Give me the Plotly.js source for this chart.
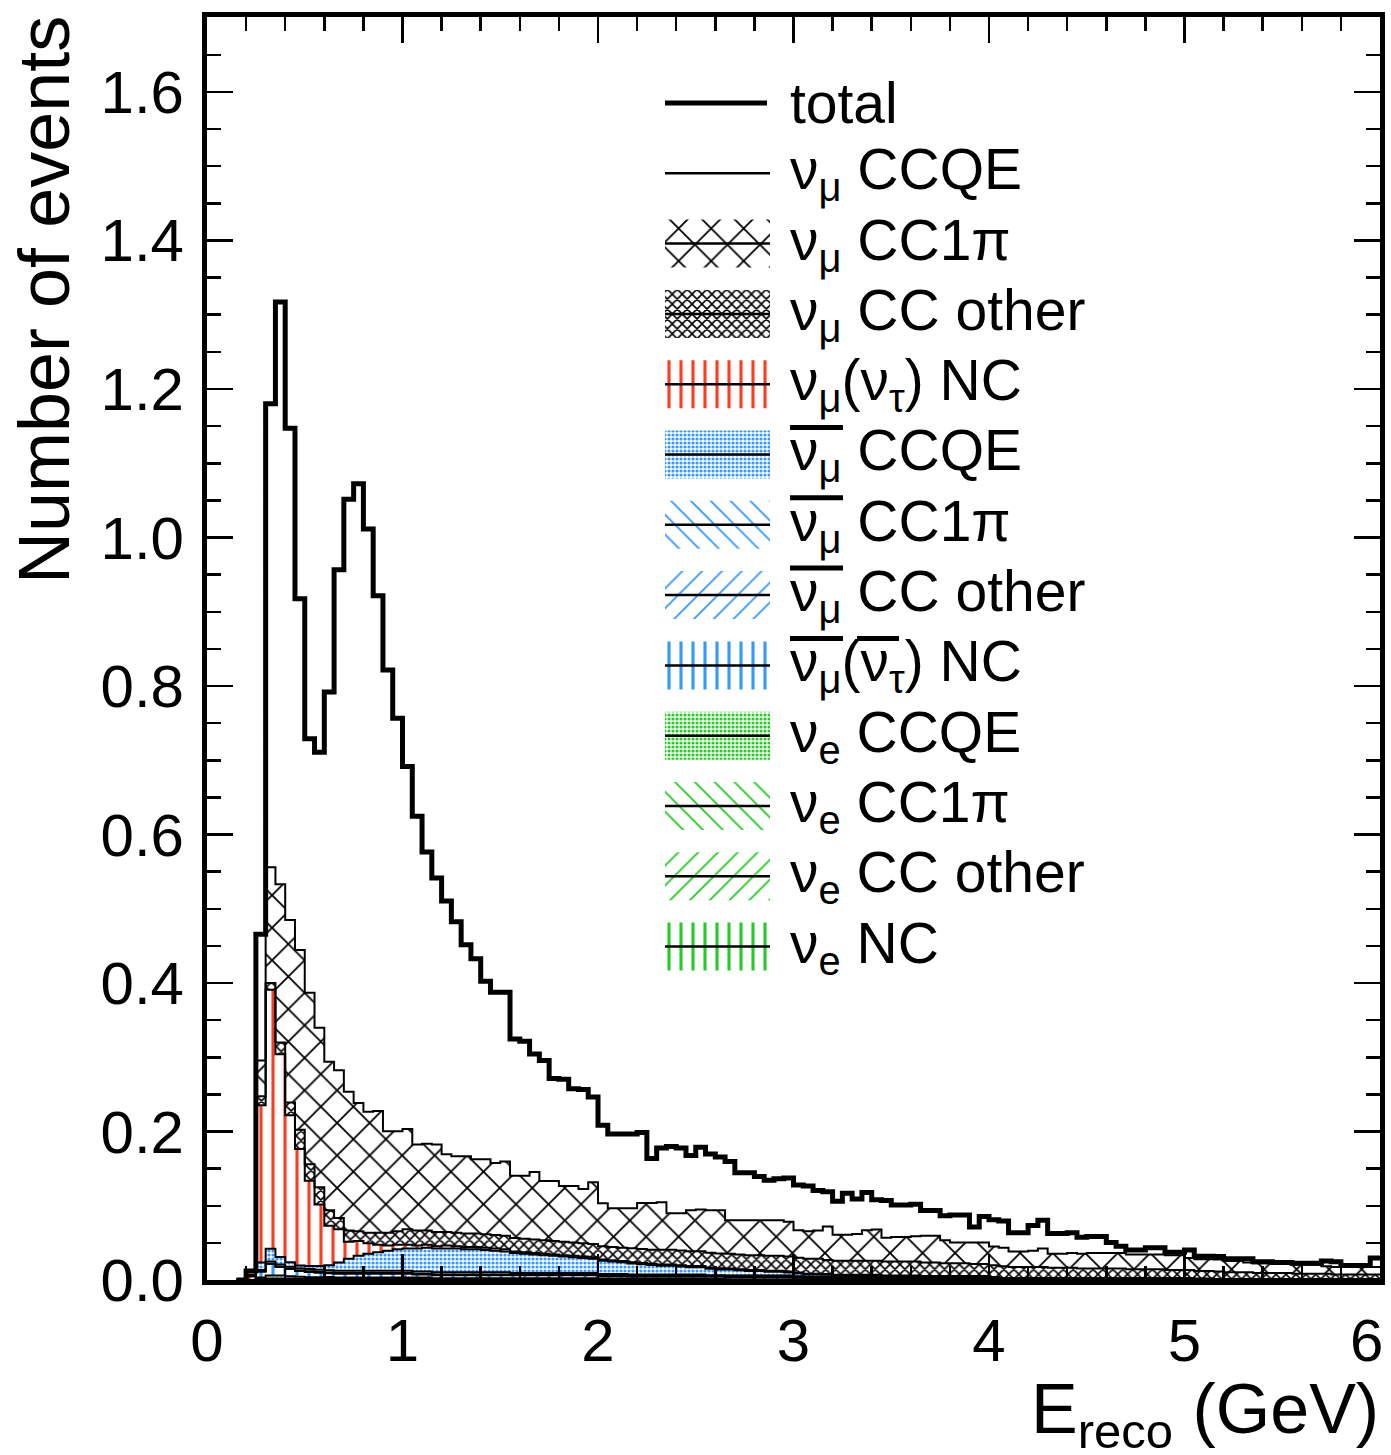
<!DOCTYPE html>
<html><head><meta charset="utf-8">
<script src="https://cdn.plot.ly/plotly-3.0.1.min.js"></script>
<style>html,body{margin:0;padding:0;background:#fff}#plot{width:1391px;height:1455px}</style>
</head><body><div id="plot"></div><script>
// ---------------- DATA (bin low edges in GeV, bin width 0.05) ----------------
const binLow = [
0.15,0.20,0.25,0.30,0.35,0.40,0.45,0.50,0.55,0.60,
0.65,0.70,0.75,0.80,0.85,0.90,0.95,1.00,1.05,1.10,
1.15,1.20,1.25,1.30,1.35,1.40,1.45,1.50,1.55,1.60,
1.65,1.70,1.75,1.80,1.85,1.90,1.95,2.00,2.05,2.10,
2.15,2.20,2.25,2.30,2.35,2.40,2.45,2.50,2.55,2.60,
2.65,2.70,2.75,2.80,2.85,2.90,2.95,3.00,3.05,3.10,
3.15,3.20,3.25,3.30,3.35,3.40,3.45,3.50,3.55,3.60,
3.65,3.70,3.75,3.80,3.85,3.90,3.95,4.00,4.05,4.10,
4.15,4.20,4.25,4.30,4.35,4.40,4.45,4.50,4.55,4.60,
4.65,4.70,4.75,4.80,4.85,4.90,4.95,5.00,5.05,5.10,
5.15,5.20,5.25,5.30,5.35,5.40,5.45,5.50,5.55,5.60,
5.65,5.70,5.75,5.80,5.85,5.90,5.95];
const lastEdge = 6.0;
const xTickVals = [0, 1, 2, 3, 4, 5, 6];

// nu_e NC
const veNC = [
0,0,0.001,0.001,0.001,0.001,0.0005,0.0005,0.0005,0.0005,
0,0,0,0,0,0,0,0,0,0,
0,0,0,0,0,0,0,0,0,0,
0,0,0,0,0,0,0,0,0,0,
0,0,0,0,0,0,0,0,0,0,
0,0,0,0,0,0,0,0,0,0,
0,0,0,0,0,0,0,0,0,0,
0,0,0,0,0,0,0,0,0,0,
0,0,0,0,0,0,0,0,0,0,
0,0,0,0,0,0,0,0,0,0,
0,0,0,0,0,0,0,0,0,0,
0,0,0,0,0,0,0];
// nu_e CC other
const veCCother = [
0,0,0,0,0,0,0,0.0003,0.0003,0.0005,
0.0005,0.0005,0.0005,0.0005,0.0005,0.0005,0.0005,0.0005,0.0005,0.0005,
0.0005,0.0005,0.0005,0.0005,0.0005,0.0005,0.0005,0.0005,0.0005,0.0005,
0.0005,0.0005,0.0005,0.0005,0.0005,0.0005,0.0005,0.0005,0.0005,0.0005,
0.0003,0.0003,0.0003,0.0003,0.0003,0.0003,0.0003,0.0003,0.0003,0.0003,
0,0,0,0,0,0,0,0,0,0,
0,0,0,0,0,0,0,0,0,0,
0,0,0,0,0,0,0,0,0,0,
0,0,0,0,0,0,0,0,0,0,
0,0,0,0,0,0,0,0,0,0,
0,0,0,0,0,0,0,0,0,0,
0,0,0,0,0,0,0];
// nu_e CC1pi
const veCC1pi = [
0,0,0.0005,0.001,0.001,0.001,0.001,0.001,0.001,0.001,
0.001,0.001,0.001,0.001,0.001,0.001,0.001,0.001,0.001,0.001,
0.0005,0.0005,0.0005,0.0005,0.0005,0.0005,0.0005,0.0005,0.0005,0.0005,
0.0005,0.0005,0.0005,0.0005,0.0005,0.0005,0.0005,0.0005,0.0005,0.0005,
0,0,0,0,0,0,0,0,0,0,
0,0,0,0,0,0,0,0,0,0,
0,0,0,0,0,0,0,0,0,0,
0,0,0,0,0,0,0,0,0,0,
0,0,0,0,0,0,0,0,0,0,
0,0,0,0,0,0,0,0,0,0,
0,0,0,0,0,0,0,0,0,0,
0,0,0,0,0,0,0];
// nu_e CCQE
const veCCQE = [
0,0,0.002,0.004,0.004,0.003,0.003,0.002,0.002,0.002,
0.002,0.002,0.002,0.002,0.002,0.002,0.002,0.002,0.002,0.002,
0.0015,0.0015,0.0015,0.0015,0.0015,0.0015,0.0015,0.0015,0.0015,0.0015,
0.0015,0.0015,0.0015,0.0015,0.0015,0.0015,0.0015,0.001,0.001,0.001,
0.001,0.001,0.001,0.001,0.001,0.001,0.001,0.001,0.001,0.001,
0.001,0.001,0.001,0.001,0.001,0.001,0.001,0.001,0.0005,0.0005,
0.0005,0.0005,0.0005,0.0005,0.0005,0.0005,0.0005,0.0005,0.0005,0.0005,
0.0005,0.0005,0.0005,0.0005,0.0005,0.0005,0.0005,0,0,0,
0,0,0,0,0,0,0,0,0,0,
0,0,0,0,0,0,0,0,0,0,
0,0,0,0,0,0,0,0,0,0,
0,0,0,0,0,0,0];
// anti-nu_mu (anti-nu_tau) NC
const antiNC = [
0,0,0.008,0.016,0.012,0.010,0.008,0.007,0.006,0.005,
0.005,0.005,0.005,0.005,0.005,0.005,0.005,0.005,0.004,0.004,
0.004,0.004,0.004,0.004,0.004,0.004,0.004,0.004,0.004,0.004,
0.004,0.004,0.004,0.004,0.004,0.004,0.004,0.003,0.003,0.003,
0.003,0.003,0.003,0.003,0.003,0.003,0.003,0.003,0.003,0.003,
0.003,0.003,0.003,0.003,0.003,0.003,0.003,0.002,0.002,0.002,
0.002,0.002,0.002,0.002,0.002,0.002,0.002,0.002,0.002,0.002,
0.002,0.002,0.002,0.002,0.002,0.002,0.002,0.002,0.001,0.001,
0.001,0.001,0.001,0.001,0.001,0.001,0.001,0.001,0.001,0.001,
0.001,0.001,0.001,0.001,0.001,0.001,0.001,0.001,0.001,0.001,
0.001,0.001,0.001,0.001,0.001,0.001,0.001,0.001,0.001,0.001,
0.001,0.001,0.001,0.001,0.001,0.001,0.001];
// anti-nu_mu CC other
const antiCCother = [
0,0,0,0,0,0,0,0.001,0.001,0.001,
0.001,0.001,0.001,0.001,0.001,0.001,0.001,0.001,0.001,0.001,
0.001,0.001,0.001,0.001,0.001,0.001,0.001,0.001,0.001,0.001,
0.001,0.001,0.001,0.001,0.001,0.001,0.001,0.001,0.001,0.001,
0.001,0.001,0.001,0.001,0.001,0.001,0.001,0.001,0.001,0.001,
0.001,0.001,0.001,0.001,0.001,0.001,0.001,0.001,0.001,0.001,
0.0005,0.0005,0.0005,0.0005,0.0005,0.0005,0.0005,0.0005,0.0005,0.0005,
0.0005,0.0005,0.0005,0.0005,0.0005,0.0005,0.0005,0.0005,0.0005,0.0005,
0.0005,0.0005,0.0005,0.0005,0.0005,0.0005,0.0005,0.0005,0.0005,0.0005,
0.0005,0.0005,0.0005,0.0005,0.0005,0.0005,0.0005,0.0005,0,0,
0,0,0,0,0,0,0,0,0,0,
0,0,0,0,0,0,0];
// anti-nu_mu CC1pi
const antiCC1pi = [
0,0,0.002,0.003,0.003,0.003,0.003,0.003,0.003,0.003,
0.003,0.003,0.003,0.003,0.003,0.003,0.003,0.003,0.003,0.003,
0.003,0.003,0.003,0.003,0.003,0.003,0.003,0.003,0.002,0.002,
0.002,0.002,0.002,0.002,0.002,0.002,0.002,0.002,0.002,0.002,
0.002,0.002,0.002,0.002,0.002,0.002,0.002,0.002,0.001,0.001,
0.001,0.001,0.001,0.001,0.001,0.001,0.001,0.001,0.001,0.001,
0.001,0.001,0.001,0.001,0.001,0.001,0.001,0.001,0.001,0.001,
0.001,0.001,0.001,0.001,0.001,0.001,0.001,0.0005,0.0005,0.0005,
0.0005,0.0005,0.0005,0.0005,0.0005,0.0005,0.0005,0.0005,0.0005,0.0005,
0.0005,0.0005,0.0005,0.0005,0.0005,0.0005,0.0005,0.0005,0.0005,0.0005,
0,0,0,0,0,0,0,0,0,0,
0,0,0,0,0,0,0];
// anti-nu_mu CCQE
const antiCCQE = [
0,0,0.010,0.017,0.010,0.006,0.004,0.004,0.005,0.007,
0.011,0.016,0.020,0.023,0.025,0.027,0.029,0.030,0.031,0.032,
0.032,0.032,0.032,0.031,0.031,0.030,0.029,0.028,0.027,0.026,
0.025,0.024,0.023,0.022,0.021,0.020,0.019,0.018,0.017,0.016,
0.015,0.014,0.013,0.012,0.012,0.011,0.010,0.010,0.009,0.008,
0.008,0.007,0.006,0.006,0.005,0.005,0.004,0.004,0.003,0.003,
0.003,0.002,0.002,0.002,0.002,0.002,0.001,0.001,0.001,0.001,
0.0005,0.0005,0.0005,0.0005,0.0005,0.0005,0.0005,0.0005,0,0,
0,0,0,0,0,0,0,0,0,0,
0,0,0,0,0,0,0,0,0,0,
0,0,0,0,0,0,0,0,0,0,
0,0,0,0,0,0,0];
// nu_mu (nu_tau) NC
const numuNC = [
0,0.005,0.212,0.349,0.273,0.198,0.157,0.115,0.083,0.053,
0.045,0.023,0.020,0.014,0.010,0.007,0.006,0.005,0.004,0.004,
0.003,0.004,0.003,0.003,0.003,0.003,0.003,0.003,0.002,0.002,
0.002,0.002,0.002,0.002,0.002,0.002,0.002,0.0015,0.0015,0.0015,
0.0015,0.0015,0.0015,0.0015,0.0015,0.0015,0.0015,0.0015,0.0015,0.0015,
0.0015,0.0015,0.0015,0.0015,0.0015,0.0015,0.0015,0.001,0.001,0.001,
0.001,0.001,0.001,0.001,0.001,0.001,0.001,0.001,0.001,0.001,
0.001,0.001,0.001,0.001,0.001,0.001,0.001,0.0005,0.0005,0.0005,
0.0005,0.0005,0.0005,0.0005,0.0005,0.0005,0.0005,0.0005,0.0005,0.0005,
0.0005,0.0005,0.0005,0.0005,0.0005,0.0005,0.0005,0.0005,0.0005,0.0005,
0.0005,0.0005,0.0005,0.0005,0.0005,0.0005,0.0005,0.0005,0.0005,0.0005,
0.0005,0.0005,0.0005,0.0005,0.0005,0.0005,0.0005];
// nu_mu CC other
const numuCCother = [
0,0,0.012,0.009,0.016,0.017,0.026,0.022,0.023,0.021,
0.015,0.015,0.013,0.014,0.016,0.017,0.018,0.021,0.020,0.019,
0.019,0.018,0.018,0.018,0.018,0.018,0.018,0.018,0.018,0.018,
0.018,0.018,0.018,0.018,0.018,0.018,0.018,0.018,0.018,0.018,
0.019,0.019,0.019,0.020,0.020,0.020,0.020,0.020,0.020,0.020,
0.020,0.020,0.020,0.020,0.020,0.020,0.020,0.020,0.020,0.020,
0.019,0.019,0.019,0.019,0.019,0.019,0.019,0.019,0.019,0.019,
0.018,0.018,0.017,0.017,0.017,0.016,0.016,0.016,0.016,0.015,
0.015,0.015,0.015,0.014,0.014,0.014,0.013,0.013,0.013,0.013,
0.013,0.012,0.012,0.012,0.012,0.011,0.011,0.011,0.010,0.010,
0.010,0.009,0.009,0.009,0.008,0.008,0.008,0.008,0.007,0.007,
0.007,0.007,0.006,0.006,0.006,0.006,0.006];
// nu_mu CC1pi
const numuCC1pi = [
0,0.002,0.048,0.156,0.213,0.246,0.242,0.231,0.215,0.200,
0.199,0.187,0.173,0.163,0.164,0.137,0.135,0.135,0.116,0.117,
0.118,0.105,0.103,0.104,0.100,0.101,0.097,0.100,0.084,0.085,
0.091,0.080,0.081,0.075,0.076,0.073,0.083,0.058,0.052,0.053,
0.054,0.062,0.063,0.064,0.049,0.050,0.055,0.056,0.057,0.058,
0.045,0.046,0.047,0.047,0.048,0.048,0.047,0.037,0.037,0.038,
0.045,0.035,0.035,0.036,0.041,0.042,0.032,0.033,0.033,0.034,
0.036,0.036,0.031,0.028,0.028,0.029,0.029,0.025,0.025,0.021,
0.021,0.022,0.025,0.019,0.019,0.020,0.020,0.021,0.021,0.021,
0.021,0.020,0.020,0.020,0.020,0.020,0.020,0.016,0.016,0.016,
0.016,0.015,0.015,0.013,0.013,0.013,0.012,0.012,0.012,0.012,
0.012,0.010,0.010,0.010,0.010,0.010,0.010];
// nu_mu CCQE
const numuCCQE = [
0,0.005,0.170,0.624,0.784,0.662,0.473,0.342,0.371,0.498,
0.674,0.798,0.834,0.785,0.694,0.621,0.556,0.488,0.442,0.393,
0.359,0.341,0.316,0.285,0.270,0.240,0.230,0.228,0.184,0.181,
0.159,0.162,0.138,0.144,0.131,0.134,0.115,0.105,0.100,0.100,
0.100,0.095,0.060,0.073,0.090,0.088,0.074,0.084,0.076,0.072,
0.079,0.064,0.064,0.059,0.054,0.056,0.059,0.061,0.061,0.054,
0.047,0.045,0.056,0.047,0.051,0.040,0.050,0.043,0.043,0.043,
0.034,0.034,0.033,0.037,0.037,0.021,0.035,0.036,0.036,0.025,
0.025,0.034,0.038,0.027,0.027,0.027,0.022,0.022,0.022,0.014,
0.009,0.006,0.006,0.009,0.009,0.004,0.004,0.011,0.004,0.004,
0.004,0.003,0.003,0.005,0.002,0.002,0.002,0.002,0.002,0.002,
0.002,0.007,0.007,0.002,0.002,0.002,0.012];

// legend labels (top to bottom); anti-neutrino bars are drawn as overline shapes
const legendLabels = [
  'total',
  'ν<sub>μ</sub> CCQE',
  'ν<sub>μ</sub> CC1π',
  'ν<sub>μ</sub> CC other',
  'ν<sub>μ</sub>(ν<sub>τ</sub>) NC',
  'ν<sub>μ</sub> CCQE',
  'ν<sub>μ</sub> CC1π',
  'ν<sub>μ</sub> CC other',
  'ν<sub>μ</sub>(ν<sub>τ</sub>) NC',
  'ν<sub>e</sub> CCQE',
  'ν<sub>e</sub> CC1π',
  'ν<sub>e</sub> CC other',
  'ν<sub>e</sub> NC'
];
const antiRows = [5, 6, 7, 8];

// ---------------- STYLE ----------------
const FONT = 'Liberation Sans, Arial, Helvetica, sans-serif';
const RED = '#ff3b1f', BLUE = '#3399ff', GREEN = '#22cc22';
const P = {
  vline: c => ({shape:'|', fgcolor:c, size:12, solidity:0.26}),
  fwd:   c => ({shape:'/', fgcolor:c, size:14, solidity:0.13}),
  back:  c => ({shape:'\\', fgcolor:c, size:14, solidity:0.13}),
  dots:  c => ({shape:'.', fgcolor:c, size:4, solidity:0.5}),
  dense: c => ({shape:'x', fgcolor:c, size:7, solidity:0.4}),
  big:   c => ({shape:'x', fgcolor:c, size:23, solidity:0.15})
};

// stack order: bottom -> top ; legend index for each
const layers = [
  {y:veNC,        pat:P.vline(GREEN), leg:12},
  {y:veCCother,   pat:P.fwd(GREEN),   leg:11},
  {y:veCC1pi,     pat:P.back(GREEN),  leg:10},
  {y:veCCQE,      pat:P.dots(GREEN),  leg:9},
  {y:antiNC,      pat:P.vline(BLUE),  leg:8},
  {y:antiCCother, pat:P.fwd(BLUE),    leg:7},
  {y:antiCC1pi,   pat:P.back(BLUE),   leg:6},
  {y:antiCCQE,    pat:P.dots(BLUE),   leg:5},
  {y:numuNC,      pat:P.vline(RED),   leg:4},
  {y:numuCCother, pat:P.dense('black'), leg:3},
  {y:numuCC1pi,   pat:P.big('black'), leg:2},
  {y:numuCCQE,    pat:null,           leg:1}
];

const xEdges = binLow.concat([lastEdge]);
const ext = a => a.concat([a[a.length - 1]]);
const traces = [];
layers.forEach(L => {
  const t = {type:'scatter', mode:'lines', x:xEdges, y:ext(L.y), stackgroup:'stack',
    line:{shape:'hv', color:'black', width:2}, fillcolor:'rgba(0,0,0,0)',
    hoverinfo:'skip', showlegend:false};
  if (L.pat) t.fillpattern = Object.assign({fillmode:'replace', bgcolor:'rgba(0,0,0,0)', fgopacity:1}, L.pat);
  traces.push(t);
});
const total = binLow.map((_, i) => layers.reduce((s, L) => s + L.y[i], 0));
traces.push({type:'scatter', mode:'lines', x:xEdges, y:ext(total),
  line:{shape:'hv', color:'black', width:5}, hoverinfo:'skip', showlegend:false});

// ---------------- LEGEND (drawn on hidden overlay axes, pixel-like units) ----------------
const PL = 207, PT = 17, PW = 1173, PH = 1263;   // plot area in page pixels
const rowY = i => 103 + 70.3 * i;
const swX0 = 665 - PL, swX1 = 770 - PL, swH = 24;
const annotations = [];
const shapes = [];
for (let i = 0; i < legendLabels.length; i++) {
  const yc = rowY(i) - PT;
  const lay = layers.find(L => L.leg === i);
  if (lay && lay.pat) {
    traces.push({type:'scatter', mode:'lines', xaxis:'x2', yaxis:'y2',
      x:[swX0, swX1, swX1, swX0, swX0], y:[yc - swH, yc - swH, yc + swH, yc + swH, yc - swH],
      fill:'toself', fillcolor:'rgba(0,0,0,0)',
      fillpattern:Object.assign({fillmode:'replace', bgcolor:'rgba(0,0,0,0)', fgopacity:1}, lay.pat),
      line:{width:0, color:'rgba(0,0,0,0)'}, hoverinfo:'skip', showlegend:false});
  }
  traces.push({type:'scatter', mode:'lines', xaxis:'x2', yaxis:'y2',
    x:[swX0, i === 0 ? swX1 - 3 : swX1], y:[yc, yc],
    line:{color:'black', width: i === 0 ? 5 : 2.5}, hoverinfo:'skip', showlegend:false});
  annotations.push({xref:'paper', yref:'paper', x:(788 - PL) / PW, y:(PT + PH - rowY(i)) / PH,
    xanchor:'left', yanchor:'middle', showarrow:false, align:'left',
    text:legendLabels[i], font:{family:FONT, size:57, color:'black'}});
  if (antiRows.includes(i)) {
    const yb = yc - 27;
    shapes.push({type:'line', xref:'x2', yref:'y2', x0:790 - PL, x1:843 - PL, y0:yb, y1:yb,
      line:{color:'black', width:5}});
    if (i === 8) shapes.push({type:'line', xref:'x2', yref:'y2', x0:857 - PL, x1:899 - PL, y0:yb, y1:yb,
      line:{color:'black', width:5}});
  }
}

// last x tick label (drawn slightly inside the page like the original)
annotations.push({xref:'paper', yref:'paper', x:(1366 - PL) / PW, y:(PT + PH - 1340) / PH,
  xanchor:'center', yanchor:'middle', showarrow:false, borderpad:0,
  text:String(xTickVals[xTickVals.length - 1]), font:{family:FONT, size:60, color:'black'}});

// axis titles
annotations.push({xref:'paper', yref:'paper', x:(2 - PL) / PW, y:(PT + PH - 14) / PH,
  xanchor:'left', yanchor:'top', textangle:-90, showarrow:false,
  text:'Number of events', font:{family:FONT, size:72, color:'black'}});
annotations.push({xref:'paper', yref:'paper', x:1, y:(PT + PH - 1369) / PH,
  xanchor:'right', yanchor:'top', showarrow:false, borderpad:0,
  text:'E<sub>reco</sub> (GeV)', font:{family:FONT, size:70, color:'black'}});

const axisCommon = {
  ticks:'inside', ticklen:26, tickwidth:2.5, tickcolor:'black',
  showline:true, linewidth:5, linecolor:'black', mirror:'ticks',
  showgrid:false, zeroline:false, fixedrange:true,
  tickfont:{family:FONT, size:60, color:'black'}
};
const layout = {
  width:1391, height:1455,
  margin:{l:PL, r:1391 - PL - PW, t:PT, b:1455 - PT - PH, pad:0},
  paper_bgcolor:'white', plot_bgcolor:'white',
  font:{family:FONT, color:'black'},
  showlegend:false,
  xaxis:Object.assign({}, axisCommon, {range:[0, 6], tickmode:'array',
    tickvals:xTickVals, ticktext:xTickVals.map((v, i) => i === xTickVals.length - 1 ? '' : String(v)),
    minor:{tick0:0, dtick:0.2, ticks:'inside', ticklen:14, tickwidth:2.5, tickcolor:'black', showgrid:false},
    ticklabelstandoff:4}),
  yaxis:Object.assign({}, axisCommon, {range:[0, 1.701], tickmode:'linear', tick0:0, dtick:0.2, tickformat:'.1f',
    minor:{tick0:0, dtick:0.05, ticks:'inside', ticklen:14, tickwidth:2.5, tickcolor:'black', showgrid:false},
    ticklabelstandoff:6}),
  xaxis2:{overlaying:'x', anchor:'y2', range:[0, PW], visible:false, fixedrange:true},
  yaxis2:{overlaying:'y', anchor:'x2', range:[PH, 0], visible:false, fixedrange:true},
  annotations:annotations,
  shapes:shapes
};
Plotly.newPlot('plot', traces, layout, {staticPlot:true, displayModeBar:false});
</script></body></html>
